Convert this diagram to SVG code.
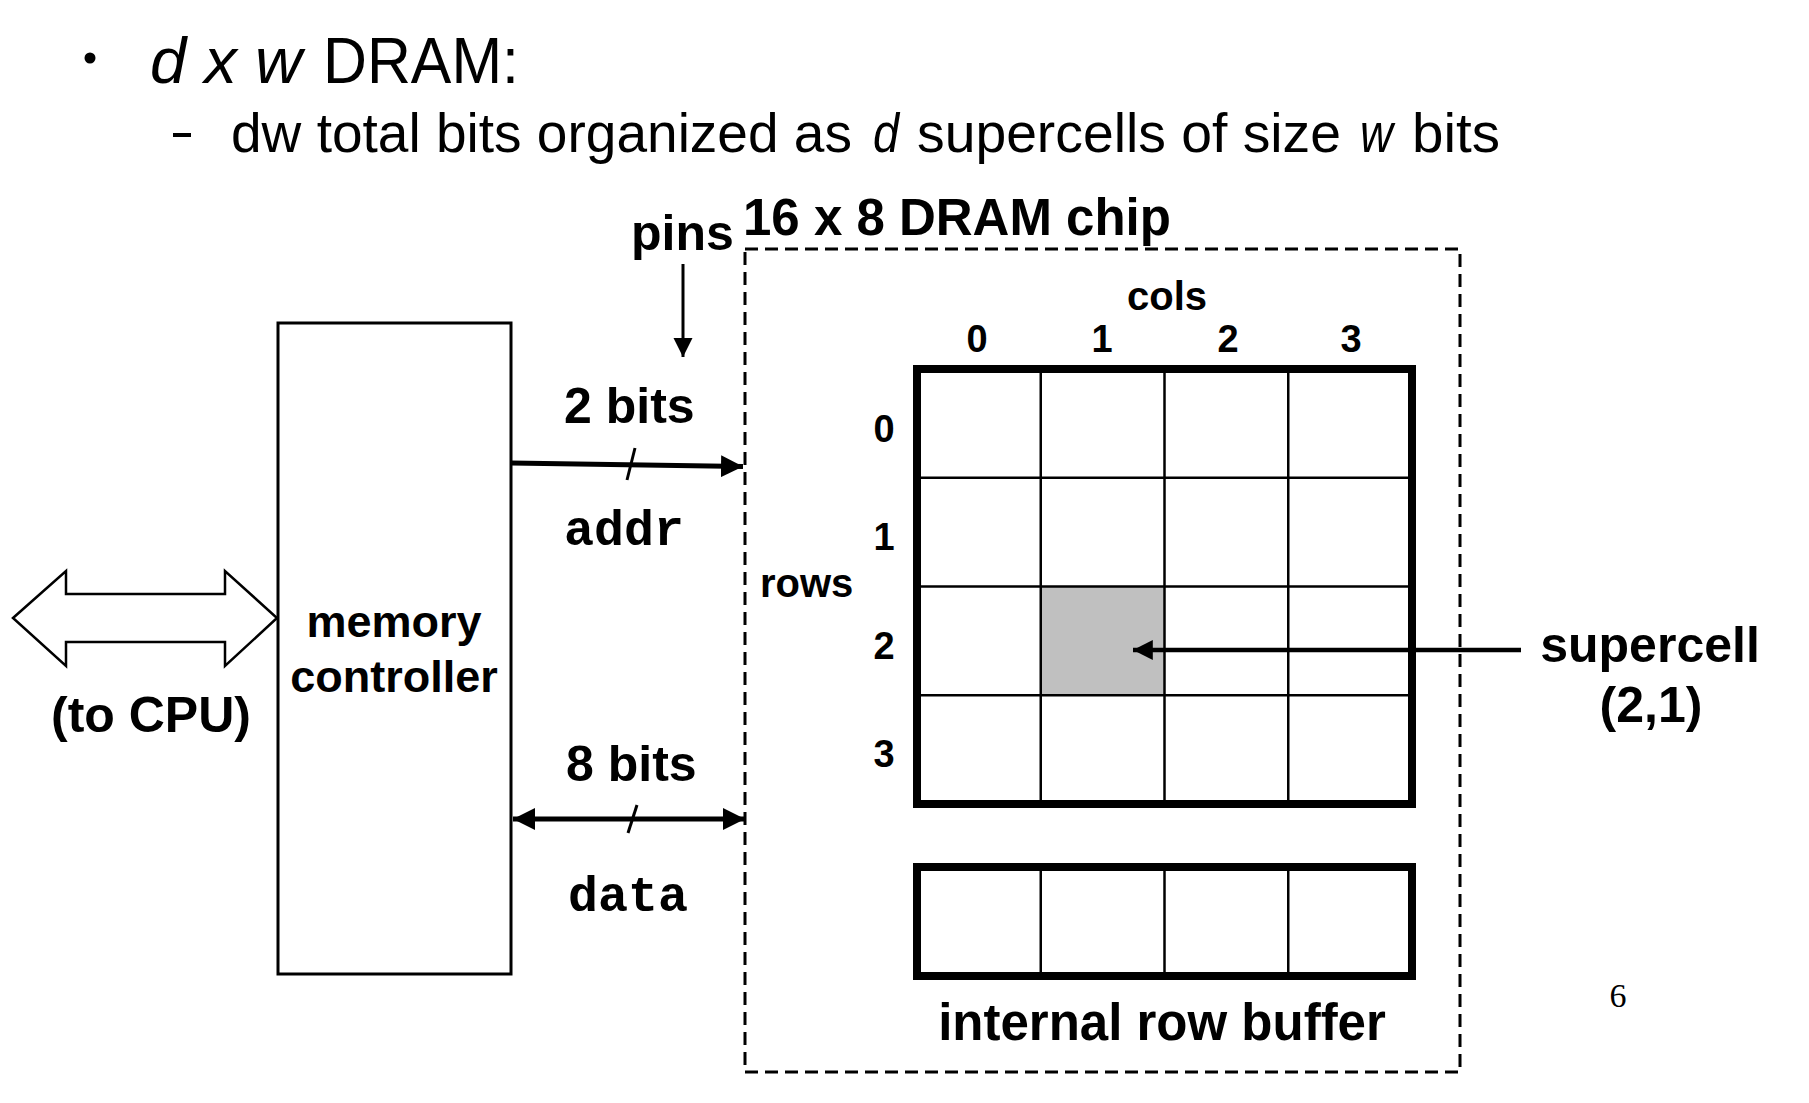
<svg xmlns="http://www.w3.org/2000/svg" width="1809" height="1103" viewBox="0 0 1809 1103">
  <style>
    .t { font-family: "Liberation Sans", Arial, sans-serif; font-weight: bold; fill: #000; }
    .m { font-family: "Liberation Mono", "Courier New", monospace; font-weight: bold; fill: #000; }
    .h { font-family: "Liberation Sans", Arial, sans-serif; fill: #000; }
    .it { font-style: italic; }
    .thin { stroke: #000; stroke-width: 2.5; fill: none; }
    .thick { stroke: #000; stroke-width: 8; fill: none; }
    .wire { stroke: #000; stroke-width: 5; fill: none; }
  </style>
  <defs>
    <marker id="ah" viewBox="0 0 10 10" refX="10" refY="5" markerWidth="4.4" markerHeight="4.4" markerUnits="strokeWidth" orient="auto">
      <path d="M0,0 L10,5 L0,10 z" fill="#000"/>
    </marker>
    <marker id="ahs" viewBox="0 0 10 10" refX="0" refY="5" markerWidth="4.4" markerHeight="4.4" markerUnits="strokeWidth" orient="auto">
      <path d="M10,0 L0,5 L10,10 z" fill="#000"/>
    </marker>
    <marker id="ahp" viewBox="0 0 10 10" refX="10" refY="5" markerWidth="6.5" markerHeight="6.5" markerUnits="strokeWidth" orient="auto">
      <path d="M0,0 L10,5 L0,10 z" fill="#000"/>
    </marker>
  </defs>
  <rect width="1809" height="1103" fill="#fff"/>

  <g id="title">
    <circle cx="90" cy="58" r="5.5" fill="#000"/>
    <text class="h it" x="150" y="83" font-size="64" textLength="152" lengthAdjust="spacingAndGlyphs">d x w</text>
    <text class="h" x="323" y="83" font-size="64" textLength="196" lengthAdjust="spacingAndGlyphs">DRAM:</text>
    <rect x="173" y="133" width="18" height="4" fill="#000"/>
    <text class="h" x="231" y="152" font-size="56" textLength="621" lengthAdjust="spacingAndGlyphs">dw total bits organized as</text>
    <text class="h it" x="873" y="152" font-size="56" textLength="26" lengthAdjust="spacingAndGlyphs">d</text>
    <text class="h" x="917" y="152" font-size="56" textLength="424" lengthAdjust="spacingAndGlyphs">supercells of size</text>
    <text class="h it" x="1360" y="152" font-size="56" textLength="33" lengthAdjust="spacingAndGlyphs">w</text>
    <text class="h" x="1412" y="152" font-size="56" textLength="88" lengthAdjust="spacingAndGlyphs">bits</text>
  </g>

  <g id="cpu-link">
    <polygon points="13,618 66,571 66,594 225,594 225,571 277,618 225,666 225,642 66,642 66,666" fill="#fff" stroke="#000" stroke-width="2.5"/>
    <text class="t" x="51" y="732" font-size="50">(to CPU)</text>
  </g>

  <g id="memory-controller">
    <rect x="278" y="323" width="233" height="651" fill="#fff" stroke="#000" stroke-width="3"/>
    <text class="t" x="394" y="637" font-size="45" text-anchor="middle">memory</text>
    <text class="t" x="394" y="692" font-size="45" text-anchor="middle">controller</text>
  </g>

  <g id="dram-chip">
    <rect x="745" y="249" width="715" height="823" fill="none" stroke="#000" stroke-width="3" stroke-dasharray="13 7"/>
    <text class="t" x="743" y="235" font-size="51">16 x 8 DRAM chip</text>
  </g>

  <g id="pins-label">
    <text class="t" x="631" y="250" font-size="50">pins</text>
  </g>

  <g id="supercell-array">
    <rect x="1041" y="586.5" width="123.5" height="108.75" fill="#c0c0c0"/>
    <g class="thin">
      <line x1="1040.75" y1="369" x2="1040.75" y2="804"/>
      <line x1="1164.5" y1="369" x2="1164.5" y2="804"/>
      <line x1="1288.25" y1="369" x2="1288.25" y2="804"/>
      <line x1="917" y1="477.75" x2="1412" y2="477.75"/>
      <line x1="917" y1="586.5" x2="1412" y2="586.5"/>
      <line x1="917" y1="695.25" x2="1412" y2="695.25"/>
    </g>
    <rect class="thick" x="917" y="369" width="495" height="435"/>
    <text class="t" x="1167" y="310" font-size="40" text-anchor="middle">cols</text>
    <g class="t" font-size="38" text-anchor="middle">
      <text x="977" y="352">0</text>
      <text x="1102" y="352">1</text>
      <text x="1228" y="352">2</text>
      <text x="1351" y="352">3</text>
      <text x="884" y="442">0</text>
      <text x="884" y="550">1</text>
      <text x="884" y="659">2</text>
      <text x="884" y="767">3</text>
    </g>
    <text class="t" x="760" y="597" font-size="40">rows</text>
  </g>

  <g id="row-buffer">
    <g class="thin">
      <line x1="1040.75" y1="867" x2="1040.75" y2="976"/>
      <line x1="1164.5" y1="867" x2="1164.5" y2="976"/>
      <line x1="1288.25" y1="867" x2="1288.25" y2="976"/>
    </g>
    <rect class="thick" x="917" y="867" width="495" height="109"/>
    <text class="t" x="1162" y="1040" font-size="51" text-anchor="middle">internal row buffer</text>
  </g>

  <g id="supercell-label">
    <text class="t" x="1650" y="662" font-size="50" text-anchor="middle">supercell</text>
    <text class="t" x="1651" y="722" font-size="50" text-anchor="middle">(2,1)</text>
  </g>

  <g id="page-number">
    <text x="1618" y="1007" font-family="'Liberation Serif', 'Times New Roman', serif" font-size="34" text-anchor="middle">6</text>
  </g>

  <g id="connectors">
    <line class="wire" x1="511" y1="463" x2="743" y2="466.5" marker-end="url(#ah)"/>
    <line x1="635" y1="448" x2="627" y2="480" stroke="#000" stroke-width="3"/>
    <text class="t" x="564" y="423" font-size="50">2 bits</text>
    <text class="m" x="564" y="545" font-size="50">addr</text>

    <line class="wire" x1="513" y1="819" x2="745" y2="819" marker-start="url(#ahs)" marker-end="url(#ah)"/>
    <line x1="637" y1="805" x2="628" y2="833" stroke="#000" stroke-width="3"/>
    <text class="t" x="566" y="781" font-size="50">8 bits</text>
    <text class="m" x="568" y="911" font-size="50">data</text>

    <line x1="683" y1="264" x2="683" y2="357" stroke="#000" stroke-width="3" marker-end="url(#ahp)"/>

    <line x1="1521" y1="650" x2="1133" y2="650" stroke="#000" stroke-width="4.5" marker-end="url(#ah)"/>
  </g>
</svg>
